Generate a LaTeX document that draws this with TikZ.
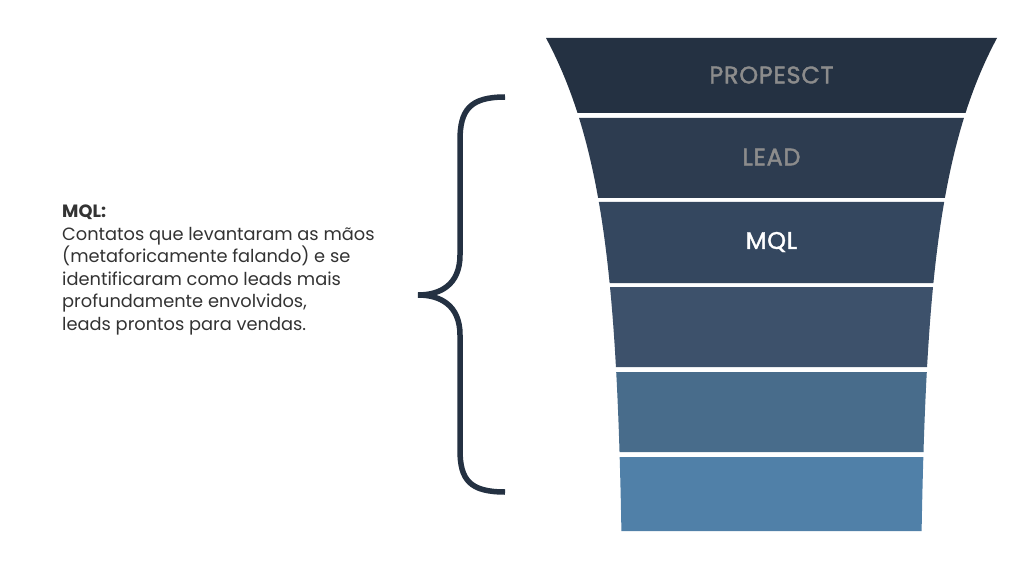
\documentclass[tikz,border=0pt]{standalone}
\usepackage{fontspec}
\setmainfont{Poppins}
\newfontfamily\lblfont[FakeBold=1.6,LetterSpace=3]{Poppins}
\begin{document}
\begin{tikzpicture}[x=1pt,y=-1pt,
 lbl/.style={font=\lblfont\fontsize{24}{28}\selectfont,anchor=center},
 txt/.style={font=\fontsize{17.8}{22.5}\selectfont,text=black!80,anchor=north west,align=left,inner sep=0pt}]
\useasboundingbox[fill=white] (0,0) rectangle (1024,585);
\definecolor{c1}{HTML}{243142}
\definecolor{c2}{HTML}{2D3C50}
\definecolor{c3}{HTML}{34475F}
\definecolor{c4}{HTML}{3D516B}
\definecolor{c5}{HTML}{486C8B}
\definecolor{c6}{HTML}{5080A8}
\foreach \a/\b/\c in {38/113/c1,118/198/c2,202/283/c3,287/367/c4,372/452/c5,457/531/c6}{
 \fill[\c] plot[domain=\a:\b,samples=20] ({624-78*exp(-(\x-38)/145)},\x)
   -- plot[domain=\b:\a,samples=20] ({919+78*exp(-(\x-38)/145)},\x) -- cycle;
}
\node[lbl,text=black!45] (p) at (771.5,75) {PROPESCT};
\node[lbl,text=black!45] (l) at (771.5,157) {LEAD};
\node[lbl,text=white] (m) at (771.5,242) {MQL};
\draw[line width=5.5pt,color=c1] (505,97) .. controls (470,97) and (460,110) .. (460,140) -- (460,255) .. controls (460,285) and (440,295) .. (418,295) .. controls (440,295) and (460,305) .. (460,335) -- (460,450) .. controls (460,480) and (470,492) .. (505,492);
\node[txt] (t) at (62,205) {\textbf{MQL:}\\Contatos que levantaram as mãos\\(metaforicamente falando) e se\\identificaram como leads mais\\profundamente envolvidos,\\leads prontos para vendas.};
\end{tikzpicture}
\end{document}
